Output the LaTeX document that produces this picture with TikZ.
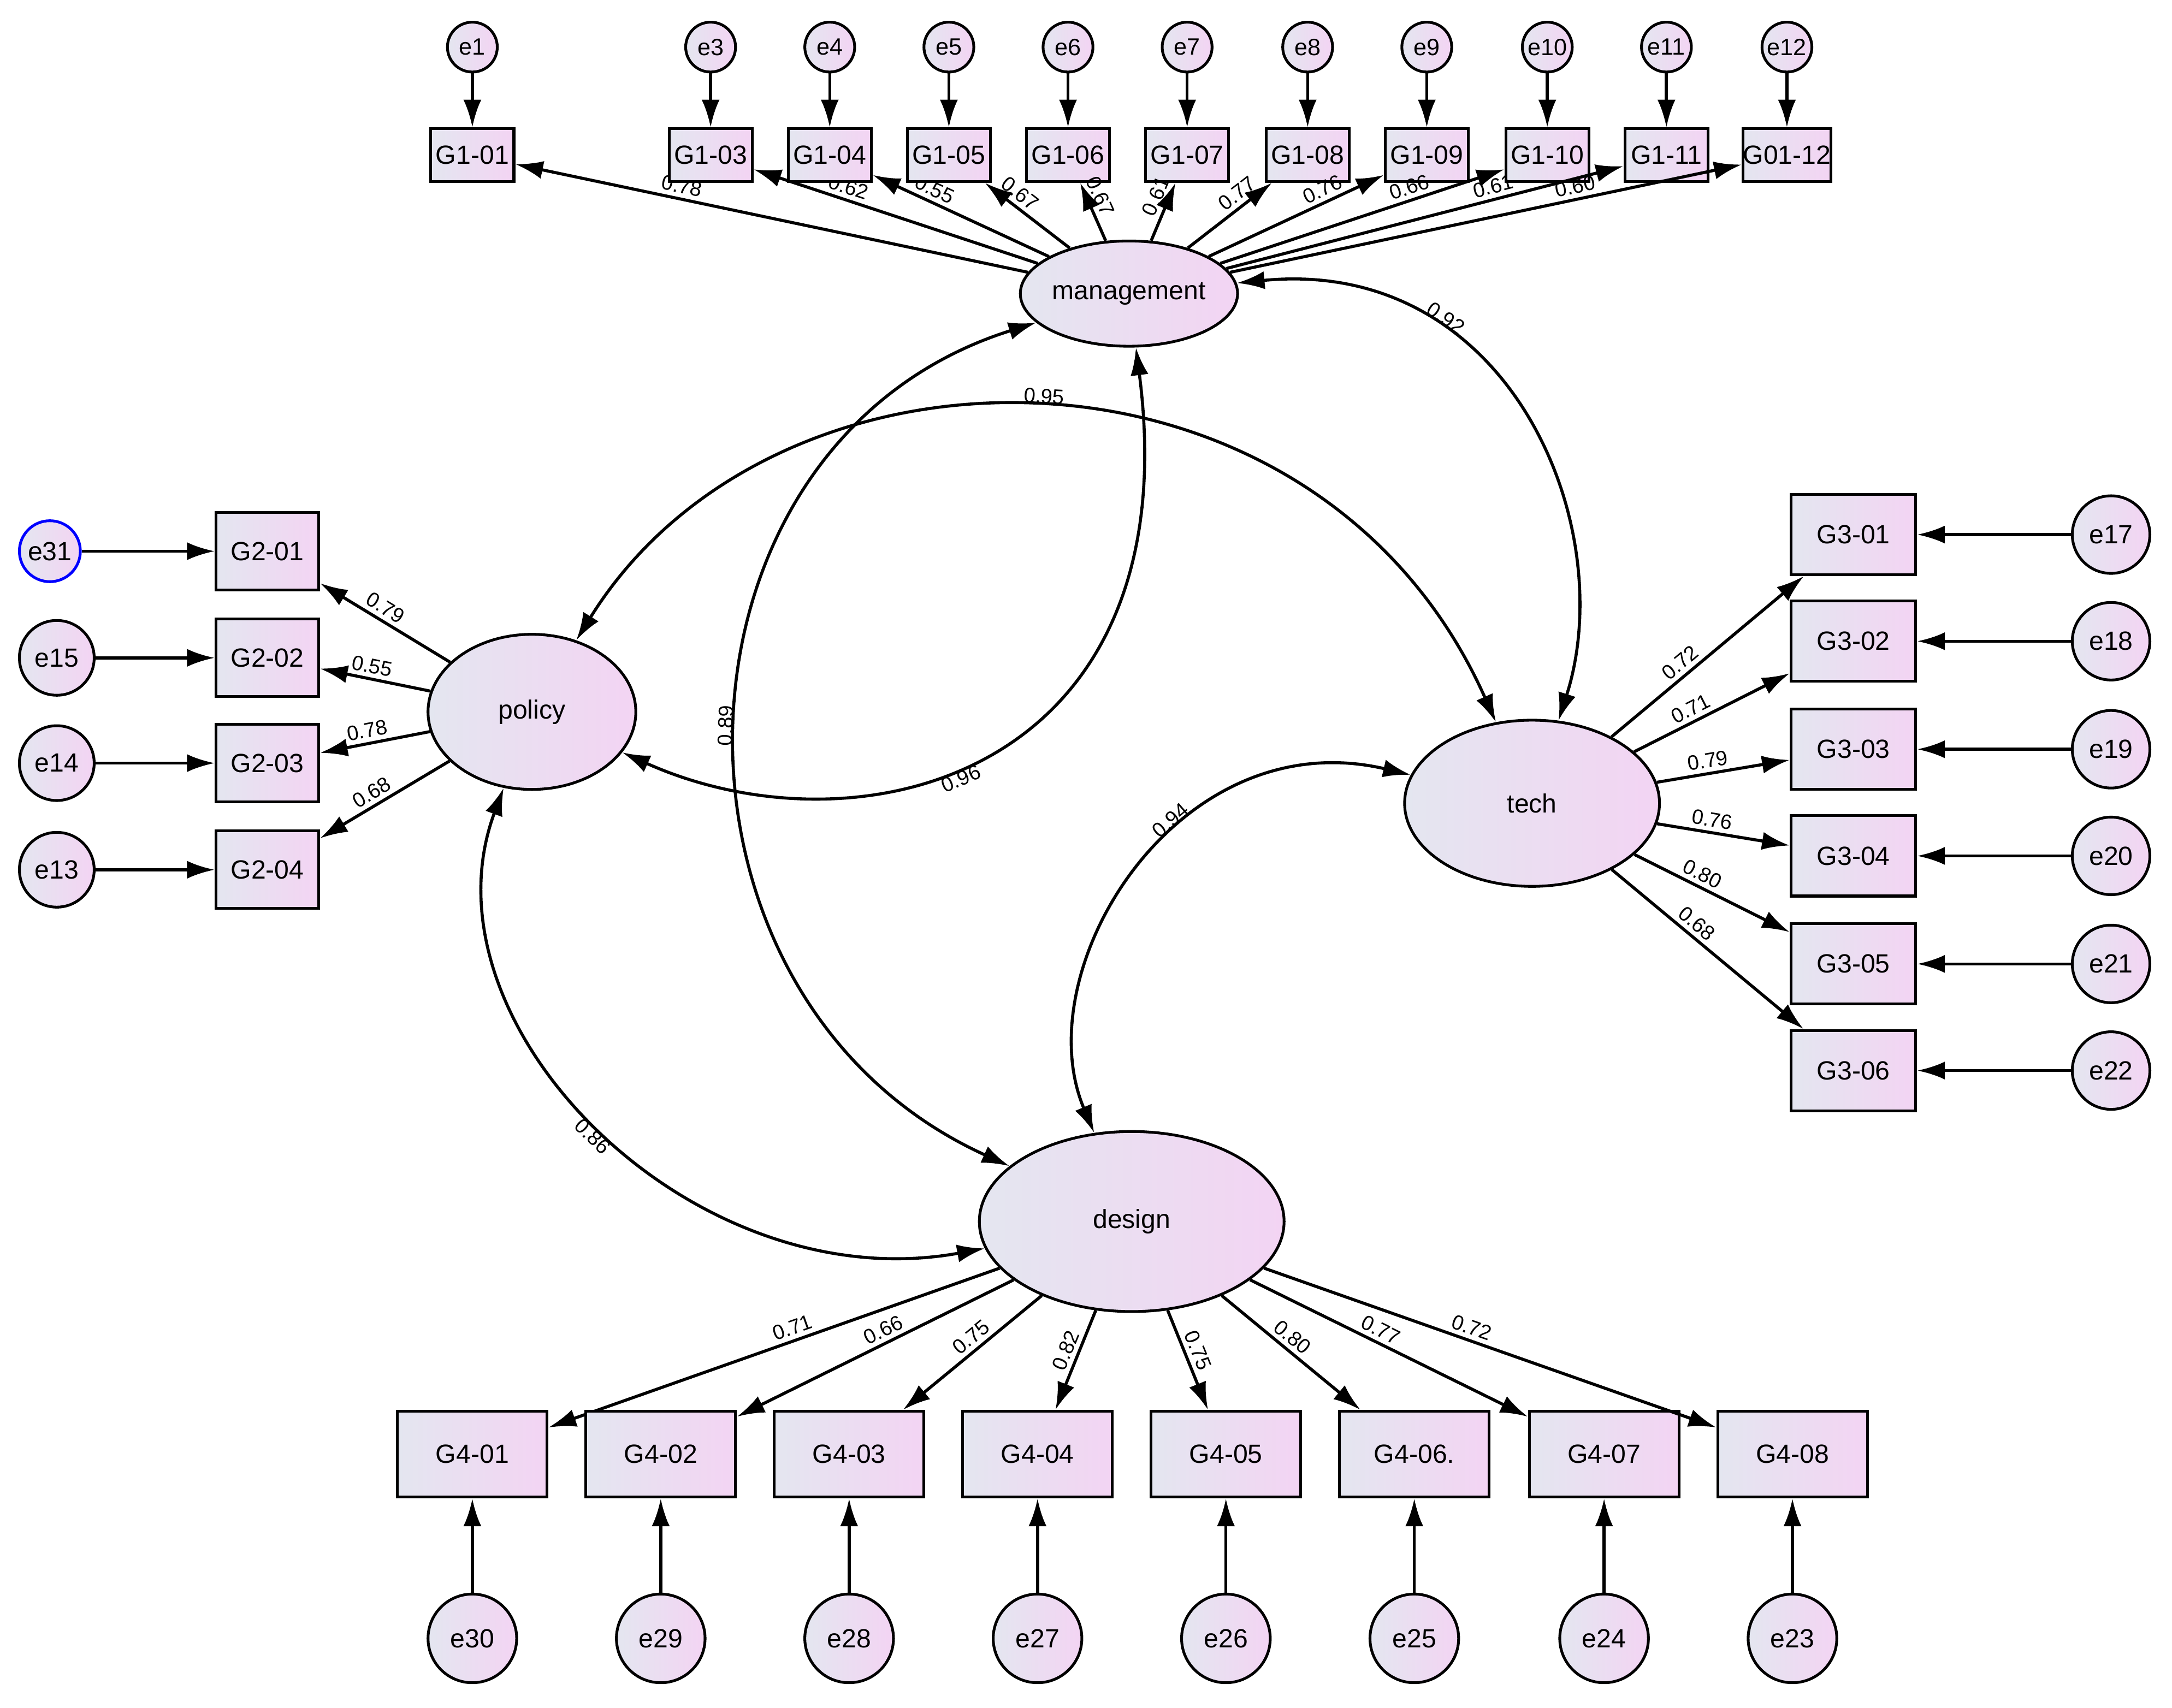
\documentclass[tikz,border=0pt]{standalone}
\usepackage{fontspec}
\setmainfont{Liberation Sans}
\usetikzlibrary{shapes.geometric,arrows.meta}
\definecolor{gl}{HTML}{E4E6F0}
\definecolor{gr}{HTML}{F3D4F3}
\begin{document}
\begin{tikzpicture}[x=1pt,y=-1pt,
  fillg/.style={left color=gl, right color=gr, draw=black, line width=2pt},
  err/.style={circle, fillg, minimum size=#1, inner sep=0pt, font=\fontsize{19}{19}\selectfont},
  err/.default=54pt,
  box/.style={rectangle, fillg, minimum width=#1, inner sep=0pt, font=\fontsize{19}{19}\selectfont},
  lat/.style={ellipse, fillg, inner sep=0pt, font=\fontsize{19}{19}\selectfont},
  arr/.style={line width=2.2pt, -{Latex[length=20pt,width=13pt]}},
  cov/.style={line width=2.2pt, {Latex[length=20pt,width=13pt]}-{Latex[length=20pt,width=13pt]}},
  lab/.style={font=\fontsize{15}{15}\selectfont, sloped, inner sep=3pt}]
\useasboundingbox (0,0) rectangle (1568,1233);
% latent
\node[lat, minimum width=120pt, minimum height=76pt] (management) at (815,212) {management};
\node[lat, minimum width=150pt, minimum height=112pt] (policy) at (384,514) {policy};
\node[lat, minimum width=184pt, minimum height=120pt] (tech) at (1106,580) {tech};
\node[lat, minimum width=220pt, minimum height=130pt] (design) at (817,882) {design};
% G1
\foreach \n/\lab/\e/\x/\v in {a/G1-01/e1/341/0.78, c/G1-03/e3/513/0.62, d/G1-04/e4/599/0.55, f/G1-05/e5/685/0.67, g/G1-06/e6/771/0.67, h/G1-07/e7/857/0.61, i/G1-08/e8/944/0.77, j/G1-09/e9/1030/0.76, k/G1-10/e10/1117/0.66, l/G1-11/e11/1203/0.61, m/G01-12/e12/1290/0.60}{
  \node[box=60pt, minimum height=38pt] (b\n) at (\x,112) {\lab};
  \node[err=36pt, font=\fontsize{17}{17}\selectfont] (e\n) at (\x,34) {\e};
  \draw[arr] (e\n) -- (b\n);
  \draw[arr] (management) -- node[lab, pos=0.68, above]{\v} (b\n);
}
% G2
\foreach \n/\lab/\e/\y/\v/\ex/\r/\col in {a/G2-01/e31/398/0.79/36/44pt/blue, b/G2-02/e15/475/0.55/41/54pt/black, c/G2-03/e14/551/0.78/41/54pt/black, d/G2-04/e13/628/0.68/41/54pt/black}{
  \node[box=74pt, minimum height=56pt] (p\n) at (193,\y) {\lab};
  \node[err=\r, draw=\col] (pe\n) at (\ex,\y) {\e};
  \draw[arr] (pe\n) -- (p\n);
  \draw[arr] (policy) -- node[lab, pos=0.55, above]{\v} (p\n);
}
% G3
\foreach \n/\lab/\e/\y/\v in {a/G3-01/e17/386/0.72, b/G3-02/e18/463/0.71, c/G3-03/e19/541/0.79, d/G3-04/e20/618/0.76, f/G3-05/e21/696/0.80, g/G3-06/e22/773/0.68}{
  \node[box=90pt, minimum height=58pt] (t\n) at (1338,\y) {\lab};
  \node[err=56pt] (te\n) at (1524,\y) {\e};
  \draw[arr] (te\n) -- (t\n);
  \draw[arr] (tech) -- node[lab, pos=0.4, above]{\v} (t\n);
}
% G4
\foreach \n/\lab/\e/\x/\v in {a/G4-01/e30/341/0.71, b/G4-02/e29/477/0.66, c/G4-03/e28/613/0.75, d/G4-04/e27/749/0.82, f/G4-05/e26/885/0.75, g/G4-06./e25/1021/0.80, h/G4-07/e24/1158/0.77, i/G4-08/e23/1294/0.72}{
  \node[box=108pt, minimum height=62pt] (d\n) at (\x,1050) {\lab};
  \node[err=64pt] (de\n) at (\x,1183) {\e};
  \draw[arr] (de\n) -- (d\n);
  \draw[arr] (design) -- node[lab, pos=0.45, above]{\v} (d\n);
}
% covariances
\draw[cov] (management) .. controls (1090,185) and (1170,380) .. node[lab, pos=0.3, above]{0.92} (tech);
\draw[cov] (policy) .. controls (560,230) and (950,230) .. node[lab, pos=0.5, above]{0.95} (tech);
\draw[cov] (management) .. controls (860,560) and (620,620) .. node[lab, pos=0.55, below]{0.96} (policy);
\draw[cov] (management) .. controls (470,320) and (460,720) .. node[lab, pos=0.5, above]{0.89} (design);
\draw[cov] (tech) .. controls (850,520) and (740,700) .. node[lab, pos=0.4, above]{0.94} (design);
\draw[cov] (policy) .. controls (300,740) and (500,940) .. node[lab, pos=0.5, below]{0.86} (design);
\end{tikzpicture}
\end{document}
